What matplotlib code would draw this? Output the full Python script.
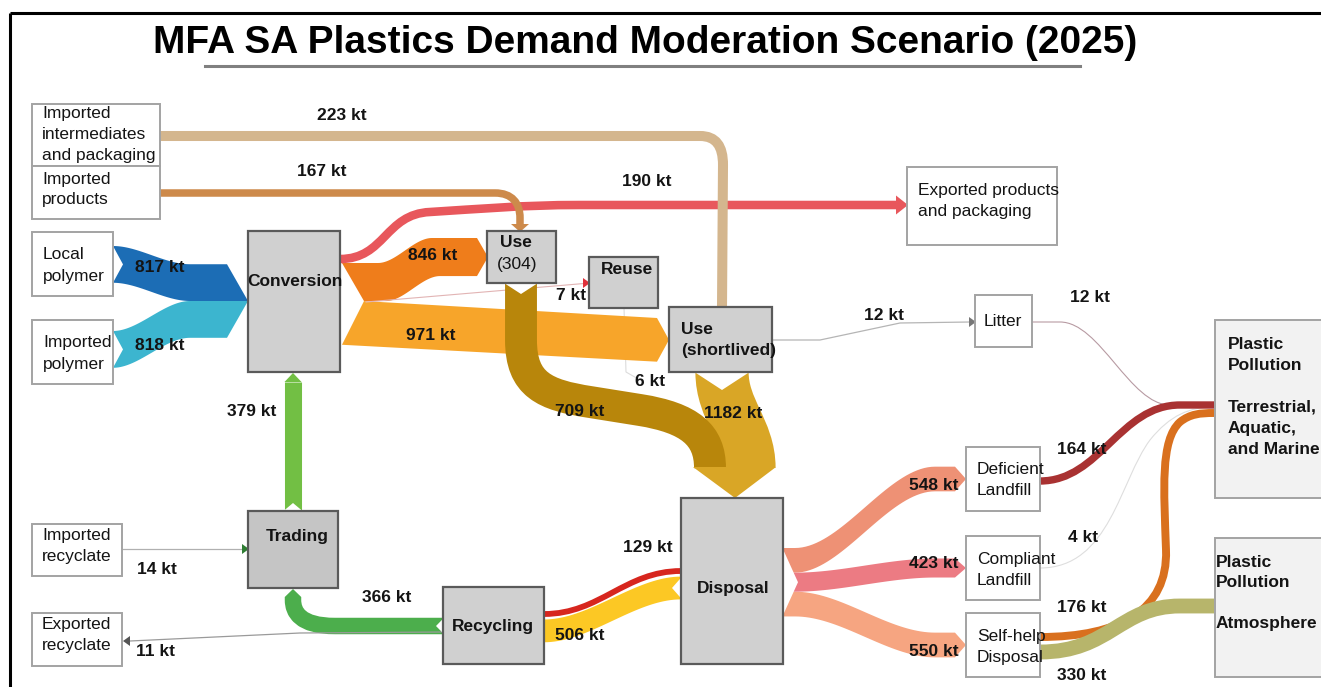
import numpy as np
import matplotlib
matplotlib.use("Agg")
import matplotlib.pyplot as plt
from matplotlib.path import Path
from matplotlib.patches import PathPatch, Polygon, Rectangle

# ---------------- data ----------------
title = "MFA SA Plastics Demand Moderation Scenario (2025)"

flow_keys = ["lp_conv", "ip_conv", "conv_use", "conv_short", "conv_exp",
             "int_short", "prod_use", "conv_reuse", "use_disp", "short_disp",
             "reuse_disp", "short_litter", "litter_pp", "def_pp", "comp_pp",
             "self_pp", "self_atm", "disp_def", "disp_comp", "disp_self",
             "rec_disp", "disp_rec", "rec_trade", "trade_conv", "imprec_trade",
             "rec_exprec"]
flow_values = [817, 818, 846, 971, 190,
               223, 167, 7, 709, 1182,
               6, 12, 12, 164, 4,
               176, 330, 548, 423, 550,
               129, 506, 366, 379, 14,
               11]
flow_units = "kt"

node_labels = {
    "imp_int": "Imported\nintermediates\nand packaging",
    "imp_prod": "Imported\nproducts",
    "local": "Local\npolymer",
    "imp_poly": "Imported\npolymer",
    "conversion": "Conversion",
    "use304": "Use",
    "reuse": "Reuse",
    "short": "Use\n(shortlived)",
    "exported": "Exported products\nand packaging",
    "litter": "Litter",
    "pp_ter": "Plastic\nPollution\n\nTerrestrial,\nAquatic,\nand Marine",
    "pp_atm": "Plastic\nPollution\n\nAtmosphere",
    "deficient": "Deficient\nLandfill",
    "compliant": "Compliant\nLandfill",
    "selfhelp": "Self-help\nDisposal",
    "disposal": "Disposal",
    "recycling": "Recycling",
    "trading": "Trading",
    "imp_rec": "Imported\nrecyclate",
    "exp_rec": "Exported\nrecyclate",
}
use_stock_label = "(304)"

val = dict(zip(flow_keys, flow_values))

# ---------------- drawing setup ----------------
FONT = "Liberation Sans"
plt.rcParams["font.family"] = [FONT, "DejaVu Sans"]
W_PX, H_PX = 1321, 687
fig = plt.figure(figsize=(W_PX / 100, H_PX / 100), dpi=100)
ax = fig.add_axes([0, 0, 1, 1])
ax.set_xlim(0, W_PX)
ax.set_ylim(H_PX, 0)
ax.axis("off")
PT = 72 / 100.0
S = 0.045  # px per kt
TXT = "#141414"


def W(k):
    return max(val[k] * S, 1.0)


def mkpath(cmds):
    verts, codes = [], []
    for c in cmds:
        if c[0] == "M":
            verts.append(c[1]); codes.append(Path.MOVETO)
        elif c[0] == "L":
            verts.append(c[1]); codes.append(Path.LINETO)
        else:
            verts += [c[1], c[2], c[3]]; codes += [Path.CURVE4] * 3
    return Path(verts, codes)


def stroke(cmds, w, color, z=2, ls="-"):
    ax.add_patch(PathPatch(mkpath(cmds), fill=False, lw=w * PT, edgecolor=color,
                           capstyle="butt", joinstyle="round", zorder=z, linestyle=ls))


def arrow(tip, base, half, color, z=2):
    tx, ty = tip
    bx, by = base
    dx, dy = tx - bx, ty - by
    L = np.hypot(dx, dy)
    nx, ny = -dy / L, dx / L
    ax.add_patch(Polygon([(bx + nx * half, by + ny * half), (tx, ty),
                          (bx - nx * half, by - ny * half)], closed=True,
                         fc=color, ec="none", zorder=z))


def poly(pts, color, z=2):
    ax.add_patch(Polygon(np.asarray(pts), closed=True, fc=color, ec="none", zorder=z))


def sig(x0, y0, x1, y1, n=40):
    t = np.linspace(0, 1, n)
    s = 3 * t ** 2 - 2 * t ** 3
    return np.c_[x0 + (x1 - x0) * t, y0 + (y1 - y0) * s]


def box(x0, y0, x1, y1, kind):
    if kind == "white":
        fc, ec, lw = "white", "#a3a3a3", 1.4
    elif kind == "gray":
        fc, ec, lw = "#d0d0d0", "#5a5a5a", 1.6
    elif kind == "dgray":
        fc, ec, lw = "#c5c5c5", "#5a5a5a", 1.6
    else:
        fc, ec, lw = "#f2f2f2", "#a3a3a3", 1.4
    ax.add_patch(Rectangle((x0, y0), x1 - x0, y1 - y0, fc=fc, ec=ec, lw=lw, zorder=5))


def lab(x, y, k):
    ax.text(x, y, f"{val[k]} {flow_units}", ha="center", va="center",
            fontsize=12.5, fontweight="bold", color=TXT, zorder=8)


# ---------------- frame & title ----------------
ax.plot([10, 10], [13, 687], color="black", lw=2.2, zorder=9, solid_capstyle="butt")
ax.plot([10, 1321], [13, 13], color="black", lw=2.2, zorder=9, solid_capstyle="butt")
ax.text(645, 43, title, ha="center", va="center", fontsize=28, fontweight="bold",
        color="black", zorder=9)
ax.plot([205, 1080], [66, 66], color="#808080", lw=2.2, zorder=9)

# ---------------- polymer inputs ----------------
ym = 301
wb, wc = W("lp_conv"), W("ip_conv")
t0 = 246
top = sig(113, t0, 190, ym - wb)
bot = sig(113, t0 + wb, 190, ym)
pts = list(top) + [(227, ym - wb), (248, ym), (190, ym)] + list(bot[::-1]) + [(123, t0 + wb / 2)]
poly(pts, "#1c6db5")
c0 = 331
top = sig(113, c0, 190, ym)
bot = sig(113, c0 + wc, 190, ym + wc)
pts = list(top) + [(248, ym), (227, ym + wc)] + list(bot[::-1]) + [(123, c0 + wc / 2)]
poly(pts, "#3cb5cf")

# ---------------- conversion outputs ----------------
w846, w971 = W("conv_use"), W("conv_short")
ty = 263
top = sig(378, ty, 432, 238)
bot = sig(386, ty + w846, 440, 238 + w846)
pts = [(342, ty)] + list(top) + [(477, 238), (488, 238 + w846 / 2), (477, 238 + w846)] + \
      list(bot[::-1]) + [(364, ty + w846)]
poly(pts, "#ef7d1b")
pts = [(364, ty + w846), (657, 318), (669, 318 + w971 / 2), (657, 318 + w971),
       (342, ty + w846 + w971)]
poly(pts, "#f7a52a")

# red export
stroke([("M", (340, 259)), ("C", (385, 259), (385, 214), (430, 212)),
        ("C", (480, 209), (520, 205), (580, 205)), ("L", (896, 205))],
       W("conv_exp"), "#e8575c", z=3)
arrow((908, 205), (896, 205), 9.5, "#e8575c", z=3)

# brown imported products
stroke([("M", (160, 193)), ("L", (495, 193)), ("C", (512, 193), (520, 203), (520, 218)),
        ("L", (520, 224))], W("prod_use"), "#cd8a4b", z=3)
arrow((520, 232), (520, 224), 9, "#cd8a4b", z=3)

# tan intermediates
stroke([("M", (160, 136)), ("L", (700, 136)), ("C", (716, 136), (723, 146), (723, 165)),
        ("L", (722, 307))], W("int_short"), "#d4b68e", z=3)

# 7 kt to reuse
ax.plot([366, 584], [302, 283.5], color="#e2b4b4", lw=0.8, zorder=3)
arrow((590, 283), (583, 283), 5, "#e0303a", z=3)

# 6 kt reuse -> disposal (faint)
ax.plot([624, 626, 640], [308, 372, 380], color="#dcdcdc", lw=0.8, zorder=1)

# 709 use -> disposal
stroke([("M", (521, 283)), ("L", (521, 340)), ("C", (521, 385), (545, 395), (590, 402)),
        ("L", (640, 410)), ("C", (690, 418), (710, 435), (710, 468))],
       W("use_disp"), "#b8860b", z=3)
# 1182 shortlived -> disposal
stroke([("M", (722, 372)), ("C", (722, 410), (749, 430), (749, 468))],
       W("short_disp"), "#d9a626", z=2)
poly([(693, 467), (776, 467), (735, 498)], "#d9a626", z=3)
poly([(521 - W("use_disp") / 2 - 1, 283), (521 + W("use_disp") / 2 + 1, 283), (521, 294)], "white", z=4)
poly([(722 - W("short_disp") / 2 - 1, 372), (722 + W("short_disp") / 2 + 1, 372), (722, 390)], "white", z=4)

# litter flows
ax.plot([772, 820, 900, 970], [340, 340, 323, 322], color="#b5b5b5", lw=0.9, zorder=3)
arrow((976, 322), (969, 322), 5, "#777777", z=3)
stroke([("M", (1032, 322)), ("L", (1060, 322)), ("C", (1100, 322), (1130, 405), (1170, 405)),
        ("L", (1214, 405))], 1.1, "#b79aa2", z=3)
stroke([("M", (1040, 568)), ("C", (1110, 568), (1120, 480), (1150, 440)),
        ("C", (1170, 415), (1190, 407), (1214, 407))], 1.1, "#dedede", z=2)

# landfill outputs
stroke([("M", (1040, 481)), ("C", (1100, 481), (1120, 405), (1180, 405)), ("L", (1214, 405))],
       W("def_pp"), "#a93232", z=3)
stroke([("M", (1040, 637)), ("C", (1120, 637), (1168, 610), (1166, 550)),
        ("C", (1164, 490), (1160, 440), (1180, 422)), ("C", (1190, 414), (1200, 413), (1214, 413))],
       W("self_pp"), "#d9701e", z=3)
stroke([("M", (1040, 652)), ("C", (1110, 652), (1120, 606), (1180, 606)), ("L", (1214, 606))],
       W("self_atm"), "#b7b56b", z=3)

# disposal fan
y0 = 548
w1, w2, w3 = W("disp_def"), W("disp_comp"), W("disp_self")


def fan(ytop, w, yc_t, color):
    top = sig(795, ytop, 935, yc_t - w / 2)
    bot = sig(795, ytop + w, 935, yc_t + w / 2)
    pts = [(783, ytop)] + list(top) + [(955, yc_t - w / 2), (966, yc_t), (955, yc_t + w / 2)] + \
          list(bot[::-1]) + [(783, ytop + w)]
    poly(pts, color, z=3)


fan(y0, w1, 479, "#ee9175")
fan(y0 + w1 + w2, w3, 645, "#f6a581")
fan(y0 + w1, w2, 568, "#ec7b83")
poly([(782, y0 - 1), (798, y0 + (w1 + w2 + w3) / 2), (782, y0 + w1 + w2 + w3 + 1)], "white", z=4)

# recycling <-> disposal
w506 = W("disp_rec")
top = sig(544, 619.5, 681, 576.6)
bot = sig(544, 619.5 + w506, 681, 576.6 + w506)
poly(list(top) + list(bot[::-1]), "#fcc824", z=3)
poly([(682, 576.6), (672, 576.6 + w506 / 2), (682, 576.6 + w506)], "white", z=4)
stroke([("M", (544, 614)), ("C", (600, 614), (625, 571), (681, 571))],
       W("rec_disp"), "#d7261e", z=3)

# recycling -> trading
stroke([("M", (443, 626)), ("L", (335, 626)), ("C", (300, 626), (293, 612), (293, 600)),
        ("L", (293, 597))], W("rec_trade"), "#4cae4c", z=3)
arrow((293, 589), (293, 597), W("rec_trade") / 2, "#4cae4c", z=3)
poly([(444, 626 - W("rec_trade") / 2), (436, 626), (444, 626 + W("rec_trade") / 2)], "white", z=4)

# trading -> conversion
stroke([("M", (293, 511)), ("L", (293, 382))], W("trade_conv"), "#72bf44", z=3)
arrow((293, 373), (293, 382), W("trade_conv") / 2, "#72bf44", z=3)
poly([(293 - W("trade_conv") / 2 - 1, 511), (293 + W("trade_conv") / 2 + 1, 511), (293, 503)], "white", z=4)

# imported / exported recyclate
ax.plot([122, 243], [549, 549], color="#b0b0b0", lw=0.9, zorder=3)
arrow((249, 549), (242, 549), 5, "#2e7d32", z=3)
ax.plot([443, 300, 130], [632, 633, 641], color="#9a9a9a", lw=0.9, zorder=3)
arrow((123, 641), (130, 641), 5, "#555555", z=3)

# ---------------- boxes ----------------
boxes = {
    "imp_int": ((32, 104, 160, 166), "white"),
    "imp_prod": ((32, 166, 160, 219), "white"),
    "local": ((32, 232, 113, 296), "white"),
    "imp_poly": ((32, 320, 113, 384), "white"),
    "conversion": ((248, 231, 340, 372), "gray"),
    "use304": ((487, 231, 556, 283), "gray"),
    "reuse": ((589, 257, 658, 308), "gray"),
    "short": ((669, 307, 772, 372), "gray"),
    "exported": ((907, 167, 1057, 245), "white"),
    "litter": ((975, 295, 1032, 347), "white"),
    "pp_ter": ((1215, 320, 1335, 498), "pp"),
    "pp_atm": ((1215, 538, 1335, 677), "pp"),
    "deficient": ((966, 447, 1040, 511), "white"),
    "compliant": ((966, 536, 1040, 600), "white"),
    "selfhelp": ((966, 613, 1040, 677), "white"),
    "disposal": ((681, 498, 783, 664), "gray"),
    "recycling": ((443, 587, 544, 664), "gray"),
    "trading": ((248, 511, 338, 588), "dgray"),
    "imp_rec": ((32, 524, 122, 576), "white"),
    "exp_rec": ((32, 613, 122, 666), "white"),
}
for k, (r, kind) in boxes.items():
    box(*r, kind)


# node labels
def nl(x, y, k, bold=False, ha="left", va="top", ls=1.5, fs=12.5):
    ax.text(x, y, node_labels[k], ha=ha, va=va, fontsize=fs, linespacing=ls,
            fontweight="bold" if bold else "normal", color=TXT, zorder=8)


nl(42, 106, "imp_int", ls=1.49)
nl(42, 172, "imp_prod", ls=1.42)
nl(43, 247, "local", ls=1.55)
nl(43, 335, "imp_poly", ls=1.55)
nl(295, 282, "conversion", bold=True, ha="center", va="center")
nl(500, 235, "use304", bold=True)
ax.text(497, 257, use_stock_label, ha="left", va="top", fontsize=12.5, color=TXT, zorder=8)
nl(601, 262, "reuse", bold=True)
nl(681, 322, "short", bold=True)
nl(918, 183, "exported")
nl(1003, 322, "litter", ha="center", va="center")
nl(1228, 337, "pp_ter", bold=True, ls=1.5)
nl(1216, 555, "pp_atm", bold=True, ls=1.45)
nl(977, 462, "deficient")
nl(977, 552, "compliant")
nl(977, 629, "selfhelp")
nl(733, 589, "disposal", bold=True, ha="center", va="center")
nl(493, 626, "recycling", bold=True, ha="center", va="center")
nl(297, 537, "trading", bold=True, ha="center", va="center")
nl(42, 528, "imp_rec")
nl(42, 617, "exp_rec")

# ---------------- flow labels ----------------
lab(342, 116, "int_short")
lab(322, 172, "prod_use")
lab(647, 181, "conv_exp")
lab(160, 268, "lp_conv")
lab(160, 346, "ip_conv")
lab(433, 256, "conv_use")
lab(431, 336, "conv_short")
lab(571, 295, "conv_reuse")
lab(650, 382, "reuse_disp")
lab(580, 411, "use_disp")
lab(733, 414, "short_disp")
lab(884, 316, "short_litter")
lab(1090, 297, "litter_pp")
lab(252, 411, "trade_conv")
lab(157, 569, "imprec_trade")
lab(387, 598, "rec_trade")
lab(648, 548, "rec_disp")
lab(580, 636, "disp_rec")
lab(155, 652, "rec_exprec")
lab(934, 486, "disp_def")
lab(934, 563, "disp_comp")
lab(934, 651, "disp_self")
lab(1082, 449, "def_pp")
lab(1083, 537, "comp_pp")
lab(1082, 608, "self_pp")
lab(1082, 676, "self_atm")

fig.savefig("out.png", dpi=100, facecolor="white")
